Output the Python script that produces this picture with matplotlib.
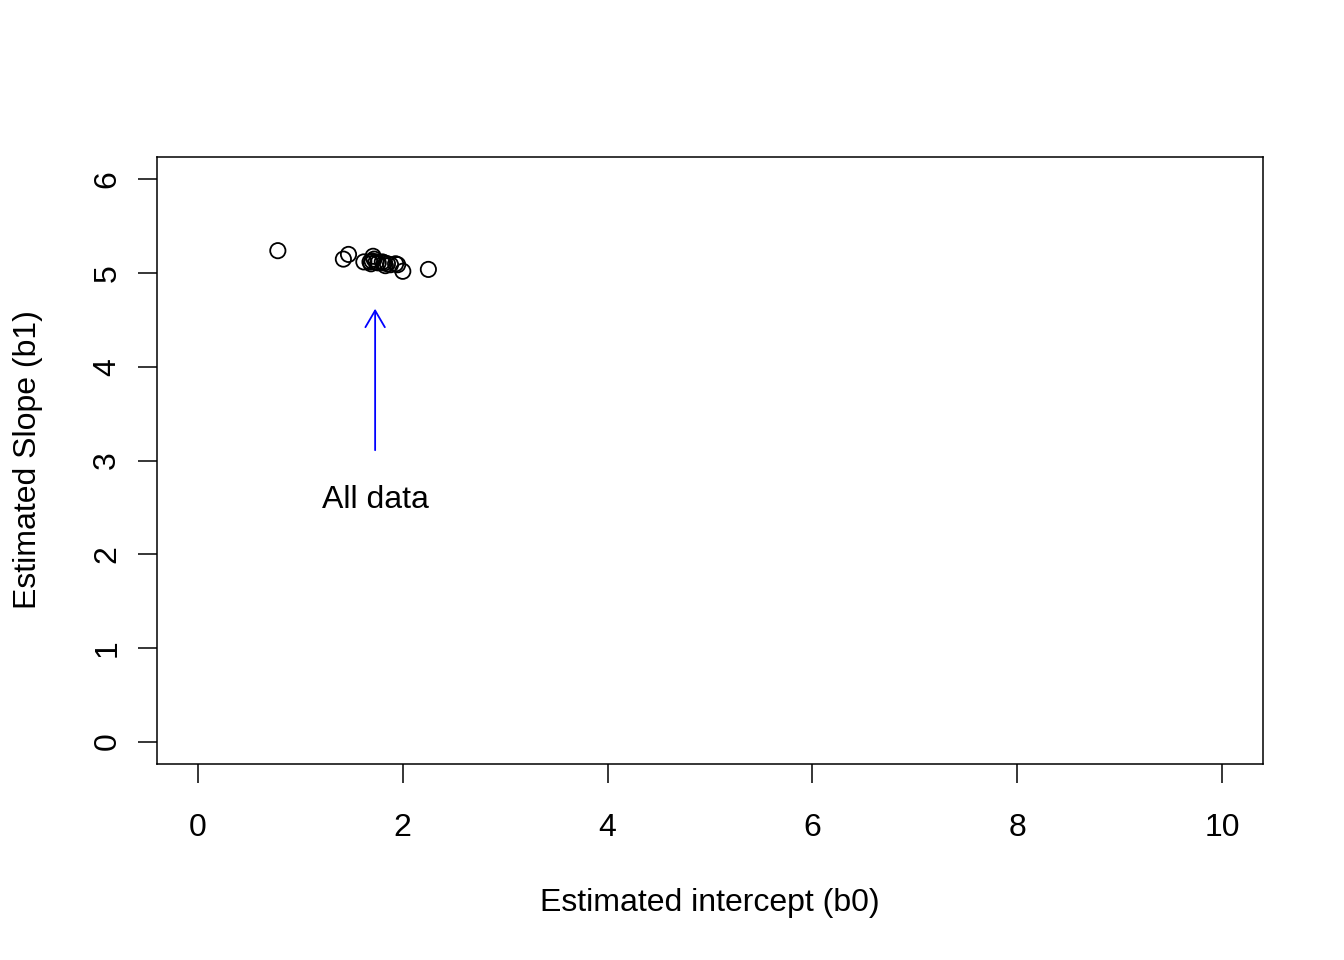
import matplotlib
matplotlib.use("Agg")
import matplotlib.pyplot as plt

plt.rcParams['font.family'] = ['Liberation Sans', 'DejaVu Sans']

b0 = [0.78, 1.47, 1.42, 1.62, 1.70, 1.71, 1.69, 1.72, 1.74, 1.80, 1.83, 1.82, 1.85, 1.93, 1.95, 2.00, 2.25, 1.68, 1.76, 1.88]
b1 = [5.24, 5.20, 5.15, 5.12, 5.13, 5.18, 5.10, 5.15, 5.12, 5.12, 5.08, 5.11, 5.10, 5.10, 5.09, 5.02, 5.04, 5.12, 5.11, 5.09]

arrow_x = 1.73
arrow_from = 3.11
arrow_to = 4.62
label_y = 2.58
label_text = "All data"

xticks = [0, 2, 4, 6, 8, 10]
yticks = [0, 1, 2, 3, 4, 5, 6]

FS = 23
fig = plt.figure(figsize=(13.44, 9.6), dpi=100)
ax = fig.add_axes([157/1344, 1-764/960, (1263-157)/1344, (764-157)/960])
ax.scatter(b0, b1, s=11**2, facecolors='none', edgecolors='black', linewidths=1.3)
ax.set_xlim(-0.4, 10.4)
ax.set_ylim(-0.24, 6.24)
ax.set_xticks(xticks)
ax.set_yticks(yticks)
ax.set_yticklabels([str(t) for t in yticks], rotation=90, va='center')
ax.tick_params(axis='both', direction='out', length=14, width=1.1, labelsize=FS, colors='black')
ax.tick_params(axis='x', pad=21)
ax.tick_params(axis='y', pad=11)
for s in ax.spines.values():
    s.set_linewidth(1.1)
ax.annotate('', xy=(arrow_x, arrow_to), xytext=(arrow_x, arrow_from),
            arrowprops=dict(arrowstyle='->,head_length=1.2,head_width=0.7', color='blue', lw=1.3, shrinkA=0, shrinkB=0))
ax.text(arrow_x, label_y, label_text, ha='center', va='center', fontsize=FS)
fig.text(710/1344, 1-903/960, 'Estimated intercept (b0)', fontsize=FS, ha='center', va='center')
fig.text(28/1344, 1-460/960, 'Estimated Slope (b1)', fontsize=FS, ha='center', va='center', rotation=90)
fig.savefig('out.png', dpi=100)
